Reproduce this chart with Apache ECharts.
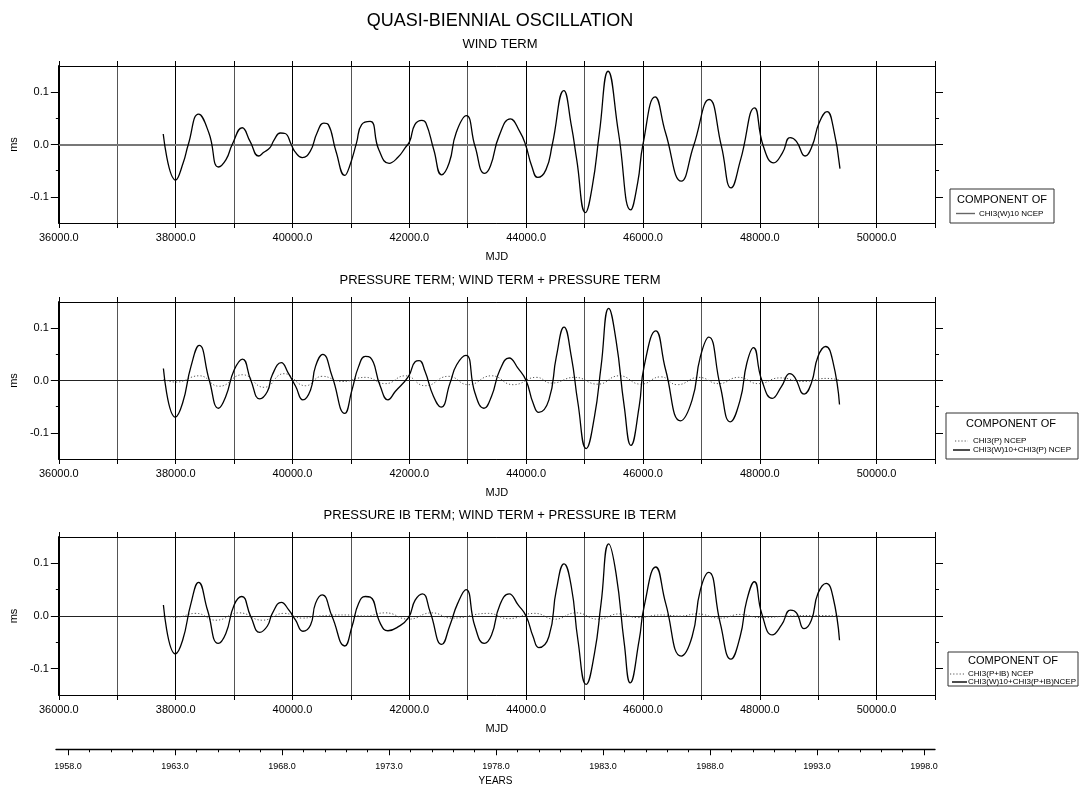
<!DOCTYPE html>
<html>
<head>
<meta charset="utf-8">
<script src="https://cdn.jsdelivr.net/npm/echarts@6/dist/echarts.min.js"></script>
<style>
  html, body { margin: 0; padding: 0; background: #fff; }
  #chart { width: 1079px; height: 787px; }
</style>
</head>
<body>
<div id="chart"></div>
<script>
// values: [MJD, ms]
const windTerm = [
  [37787, 0.020], [38000, -0.068], [38129, -0.035], [38216, 0.000], [38392, 0.058], [38569, 0.022],
  [38733, -0.043], [38862, -0.029], [38968, 0.000], [39139, 0.032], [39274, 0.006], [39421, -0.022],
  [39509, -0.015], [39615, -0.006], [39686, 0.009], [39792, 0.022], [39874, 0.021], [39979, 0.000],
  [40038, -0.013], [40168, -0.025], [40303, -0.013], [40420, 0.022], [40538, 0.041], [40614, 0.038],
  [40744, -0.013], [40896, -0.059], [40979, -0.041], [41096, 0.003], [41184, 0.038], [41331, 0.044],
  [41478, -0.010], [41654, -0.036], [41801, -0.025], [41931, -0.006], [42007, 0.006], [42095, 0.038],
  [42213, 0.046], [42284, 0.041], [42419, -0.010], [42554, -0.058], [42683, -0.035], [42801, 0.022],
  [42977, 0.055], [43124, -0.003], [43289, -0.055], [43389, -0.041], [43536, 0.016], [43730, 0.049],
  [43889, 0.025], [43989, 0.000], [44095, -0.041], [44200, -0.063], [44340, -0.048], [44448, 0.000],
  [44645, 0.103], [44776, 0.035], [44866, -0.029], [45015, -0.130], [45134, -0.079], [45254, 0.022],
  [45403, 0.140], [45582, 0.022], [45791, -0.125], [45910, -0.073], [46000, 0.000], [46209, 0.091],
  [46388, 0.022], [46657, -0.070], [46866, -0.003], [47134, 0.086], [47343, -0.003], [47510, -0.083],
  [47672, -0.029], [47910, 0.070], [48060, -0.003], [48239, -0.035], [48388, -0.016], [48519, 0.013],
  [48627, 0.006], [48776, -0.022], [48896, -0.003], [49015, 0.041], [49152, 0.063], [49254, 0.035],
  [49373, -0.046]
];

const pressureTerm = [
  [37790, 0.002], [38006, -0.003], [38404, 0.009], [38745, -0.011], [39143, 0.011], [39513, -0.013],
  [39854, 0.013], [40224, -0.010], [40508, 0.008], [40849, -0.002], [41247, 0.006], [41589, -0.006],
  [41930, 0.009], [42271, -0.010], [42669, 0.008], [43010, -0.008], [43408, 0.009], [43778, -0.008],
  [44176, 0.006], [44433, -0.005], [44830, 0.006], [45227, -0.007], [45595, 0.009], [45964, -0.007],
  [46304, 0.007], [46587, -0.008], [46956, 0.006], [47296, -0.006], [47636, 0.006], [47976, -0.006],
  [48345, 0.005], [48742, -0.002], [49138, 0.004], [49365, 0.001]
];

const windPlusPressure = [
  [37790, 0.023], [37994, -0.070], [38119, -0.043], [38262, 0.027], [38404, 0.067], [38574, 0.001],
  [38734, -0.053], [38859, -0.030], [39001, 0.020], [39143, 0.041], [39285, 0.001], [39439, -0.035],
  [39570, -0.021], [39655, 0.011], [39808, 0.034], [39928, 0.014], [40053, -0.011], [40178, -0.037],
  [40309, -0.018], [40394, 0.027], [40519, 0.050], [40678, 0.008], [40894, -0.063], [41019, -0.018],
  [41133, 0.027], [41247, 0.046], [41332, 0.044], [41503, -0.011], [41634, -0.037], [41759, -0.021],
  [41986, 0.008], [42100, 0.036], [42168, 0.038], [42270, 0.017], [42413, -0.030], [42544, -0.051],
  [42697, -0.005], [42811, 0.030], [42970, 0.048], [43124, -0.024], [43277, -0.053], [43408, -0.030],
  [43550, 0.020], [43709, 0.043], [43863, 0.023], [43999, 0.000], [44119, -0.043], [44216, -0.061],
  [44390, -0.037], [44518, 0.046], [44649, 0.102], [44773, 0.046], [44887, -0.043], [45028, -0.130],
  [45170, -0.069], [45283, 0.027], [45414, 0.138], [45539, 0.077], [45680, -0.050], [45794, -0.124],
  [45935, -0.050], [46020, 0.027], [46219, 0.095], [46389, 0.020], [46644, -0.077], [46842, -0.037],
  [46984, 0.046], [47126, 0.083], [47324, -0.011], [47494, -0.079], [47664, -0.037], [47778, 0.033],
  [47891, 0.063], [48033, 0.001], [48214, -0.034], [48373, -0.011], [48515, 0.013], [48600, 0.006],
  [48759, -0.026], [48883, -0.005], [48997, 0.046], [49127, 0.065], [49252, 0.036], [49365, -0.046]
];

const pressureIbTerm = [
  [37790, 0.000], [38006, -0.002], [38347, 0.005], [38688, -0.008], [39086, 0.006], [39484, -0.008],
  [39854, 0.005], [40167, -0.004], [40451, 0.000], [40906, 0.002], [41247, 0.000], [41589, 0.006],
  [41987, -0.006], [42385, 0.006], [42726, -0.004], [43351, 0.005], [43693, -0.005], [44148, 0.005],
  [44490, -0.006], [44858, 0.006], [45227, -0.006], [45595, 0.004], [45907, -0.003], [46304, 0.002],
  [46644, 0.000], [46927, 0.004], [47324, -0.004], [47664, 0.003], [48005, -0.003], [48515, 0.000],
  [48968, 0.001], [49365, 0.000]
];

const windPlusPressureIb = [
  [37790, 0.021], [37994, -0.072], [38119, -0.046], [38262, 0.024], [38392, 0.064], [38546, 0.011],
  [38728, -0.052], [38859, -0.033], [39001, 0.021], [39132, 0.037], [39285, -0.001], [39439, -0.031],
  [39570, -0.019], [39655, 0.005], [39808, 0.026], [39939, 0.011], [40053, -0.008], [40178, -0.029],
  [40309, -0.017], [40394, 0.024], [40508, 0.040], [40678, -0.001], [40894, -0.057], [41019, -0.020],
  [41133, 0.024], [41247, 0.037], [41332, 0.036], [41503, -0.014], [41634, -0.028], [41788, -0.022],
  [41986, -0.003], [42100, 0.030], [42225, 0.042], [42356, 0.008], [42555, -0.054], [42697, -0.017],
  [42828, 0.024], [42970, 0.050], [43124, -0.020], [43283, -0.052], [43408, -0.036], [43550, 0.021],
  [43709, 0.042], [43863, 0.021], [43999, 0.000], [44119, -0.039], [44216, -0.060], [44390, -0.039],
  [44518, 0.050], [44649, 0.099], [44773, 0.056], [44887, -0.046], [45028, -0.130], [45170, -0.071],
  [45283, 0.024], [45414, 0.137], [45539, 0.081], [45680, -0.052], [45782, -0.127], [45935, -0.046],
  [46020, 0.018], [46219, 0.093], [46389, 0.024], [46655, -0.076], [46842, -0.039], [46984, 0.050],
  [47126, 0.083], [47324, -0.014], [47506, -0.082], [47664, -0.039], [47778, 0.030], [47908, 0.065],
  [48033, 0.005], [48214, -0.036], [48373, -0.017], [48526, 0.011], [48628, 0.006], [48759, -0.024],
  [48883, -0.008], [48997, 0.043], [49138, 0.062], [49252, 0.037], [49365, -0.046]
];

const mjdLabels = [36000, 38000, 40000, 42000, 44000, 46000, 48000, 50000];
const yLabels = [-0.1, 0, 0.1];
const yMinorTicks = [-0.05, 0.05];
const yearLabels = [1958, 1963, 1968, 1973, 1978, 1983, 1988, 1993, 1998];
const yearTicks = [
  1958, 1959, 1960, 1961, 1962, 1963, 1964, 1965, 1966, 1967, 1968, 1969, 1970, 1971,
  1972, 1973, 1974, 1975, 1976, 1977, 1978, 1979, 1980, 1981, 1982, 1983, 1984, 1985,
  1986, 1987, 1988, 1989, 1990, 1991, 1992, 1993, 1994, 1995, 1996, 1997, 1998
];
const panelTitles = [
  "WIND TERM",
  "PRESSURE TERM; WIND TERM + PRESSURE TERM",
  "PRESSURE IB TERM; WIND TERM + PRESSURE IB TERM"
];

const FONT = "Liberation Sans, Arial, sans-serif";
const panels = [{ top: 66, height: 157 }, { top: 302, height: 157 }, { top: 537, height: 158 }];
const txt = (size) => ({ fontFamily: FONT, fontSize: size, color: "#000" });

const grid = panels.map((p) => ({ left: 56, right: 144, top: p.top, height: p.height }));
grid.push({ left: 56, right: 144, top: 749, height: 1 });

const xAxis = [];
const yAxis = [];
panels.forEach((p, i) => {
  xAxis.push({
    gridIndex: i, type: "value", position: "bottom", min: 36000, max: 51000, interval: 1000,
    axisLine: { onZero: false, lineStyle: { color: "#000", width: 1 } },
    axisTick: { length: 5, lineStyle: { color: "#000" } },
    axisLabel: { customValues: mjdLabels, formatter: (v) => v.toFixed(1), margin: 9, ...txt(11) },
    splitLine: { show: true, lineStyle: { color: ["#000", "#555"], width: 1 } },
    name: "MJD", nameLocation: "middle", nameGap: 28, nameTextStyle: txt(11)
  });
  xAxis.push({
    gridIndex: i, type: "value", position: "top", min: 36000, max: 51000, interval: 1000,
    axisLine: { onZero: false, lineStyle: { color: "#000", width: 1 } },
    axisTick: { length: 5, lineStyle: { color: "#000" } },
    axisLabel: { show: false }, splitLine: { show: false }
  });
  const yBase = { gridIndex: i, type: "value", min: -0.15, max: 0.15, interval: 0.05, splitLine: { show: false } };
  yAxis.push({
    ...yBase, position: "left",
    axisLine: { show: true, onZero: false, lineStyle: { color: "#000", width: 2 } },
    axisTick: { show: true, customValues: yMinorTicks, length: 3, lineStyle: { color: "#000" } },
    axisLabel: { customValues: yLabels, formatter: (v) => v.toFixed(1), margin: 10, ...txt(11) },
    name: "ms", nameLocation: "middle", nameGap: 38, nameTextStyle: txt(11)
  });
  yAxis.push({
    ...yBase, position: "left", axisLine: { show: false },
    axisTick: { show: true, customValues: yLabels, length: 8, lineStyle: { color: "#000" } },
    axisLabel: { show: false }
  });
  yAxis.push({
    ...yBase, position: "right",
    axisLine: { show: true, onZero: false, lineStyle: { color: "#000", width: 1 } },
    axisTick: { show: true, customValues: yMinorTicks, length: 4, lineStyle: { color: "#000" } },
    axisLabel: { show: false }
  });
  yAxis.push({
    ...yBase, position: "right", axisLine: { show: false },
    axisTick: { show: true, customValues: yLabels, length: 8, lineStyle: { color: "#000" } },
    axisLabel: { show: false }
  });
});

// years axis under the three panels
xAxis.push({
  gridIndex: 3, type: "value", position: "bottom", min: 1957.44, max: 1998.51,
  axisLine: { onZero: false, lineStyle: { color: "#000", width: 1.4 } },
  axisTick: { customValues: yearTicks, length: 3, lineStyle: { color: "#000" } },
  axisLabel: { show: false }, splitLine: { show: false }
});
xAxis.push({
  gridIndex: 3, type: "value", position: "bottom", min: 1957.44, max: 1998.51,
  axisLine: { show: false, onZero: false },
  axisTick: { customValues: yearLabels, length: 6, lineStyle: { color: "#000" } },
  axisLabel: { customValues: yearLabels, formatter: (v) => v.toFixed(1), margin: 13, ...txt(9) },
  splitLine: { show: false },
  name: "YEARS", nameLocation: "middle", nameGap: 27, nameTextStyle: txt(10)
});
yAxis.push({ gridIndex: 3, type: "value", show: false });

function zeroLine(color, width) {
  return {
    silent: true, z: 1, symbol: ["none", "none"], label: { show: false },
    lineStyle: { color, width, type: "solid" }, data: [{ yAxis: 0 }]
  };
}
function solid(data, panel, zero) {
  return {
    type: "line", data, xAxisIndex: panel * 2, yAxisIndex: panel * 4,
    symbol: "none", smooth: 0.5,
    lineStyle: { color: "#000", width: 1.3 }, markLine: zero
  };
}
function dotted(data, panel) {
  return {
    type: "line", data, xAxisIndex: panel * 2, yAxisIndex: panel * 4,
    symbol: "none", smooth: 0.5,
    lineStyle: { color: "#555", width: 1, type: [1.2, 2] }
  };
}

const series = [
  solid(windTerm, 0, zeroLine("#777", 2)),
  dotted(pressureTerm, 1),
  solid(windPlusPressure, 1, zeroLine("#222", 1)),
  dotted(pressureIbTerm, 2),
  solid(windPlusPressureIb, 2, zeroLine("#222", 1))
];

const title = [
  { text: "QUASI-BIENNIAL OSCILLATION", left: 495, top: 7, textAlign: "center",
    textStyle: { ...txt(18), fontWeight: "normal" } }
].concat(panelTitles.map((t, i) => ({
  text: t, left: 495, top: panels[i].top - 33, textAlign: "center",
  textStyle: { ...txt(13), fontWeight: "normal" }
})));

// legend boxes
function legendBox(x, y, w, h, headX, headY, entries) {
  const els = [
    { type: "rect", shape: { x, y, width: w, height: h }, style: { fill: "#fff", stroke: "#333", lineWidth: 1 } },
    { type: "text", x: headX, y: headY,
      style: { text: "COMPONENT OF", font: "11px " + FONT, fill: "#000", align: "center", verticalAlign: "middle" } }
  ];
  entries.forEach((e) => {
    els.push({ type: "line", shape: { x1: e.x1, y1: e.y, x2: e.x2, y2: e.y },
      style: { stroke: e.color, lineWidth: e.dash ? 1 : 1.4, lineDash: e.dash ? [1.2, 2] : null } });
    els.push({ type: "text", x: e.tx, y: e.y,
      style: { text: e.label, font: "8px " + FONT, fill: "#000", align: "left", verticalAlign: "middle" } });
  });
  return els;
}

const graphic = [].concat(
  legendBox(950, 189, 104, 34, 1002, 200, [
    { x1: 956, x2: 975, y: 213.5, tx: 979, color: "#666", label: "CHI3(W)10 NCEP" }
  ]),
  legendBox(946, 413, 132, 46, 1011, 424, [
    { x1: 955, x2: 968, y: 441, tx: 973, color: "#555", dash: true, label: "CHI3(P) NCEP" },
    { x1: 953, x2: 970, y: 450, tx: 973, color: "#000", label: "CHI3(W)10+CHI3(P) NCEP" }
  ]),
  legendBox(948, 652, 130, 34, 1013, 661, [
    { x1: 950, x2: 965, y: 674, tx: 968, color: "#555", dash: true, label: "CHI3(P+IB) NCEP" },
    { x1: 952, x2: 967, y: 682, tx: 968, color: "#000", label: "CHI3(W)10+CHI3(P+IB)NCEP" }
  ])
);

const chart = echarts.init(document.getElementById("chart"));
chart.setOption({
  animation: false,
  backgroundColor: "#fff",
  textStyle: { fontFamily: FONT },
  title, grid, xAxis, yAxis, series, graphic
});
</script>
</body>
</html>
